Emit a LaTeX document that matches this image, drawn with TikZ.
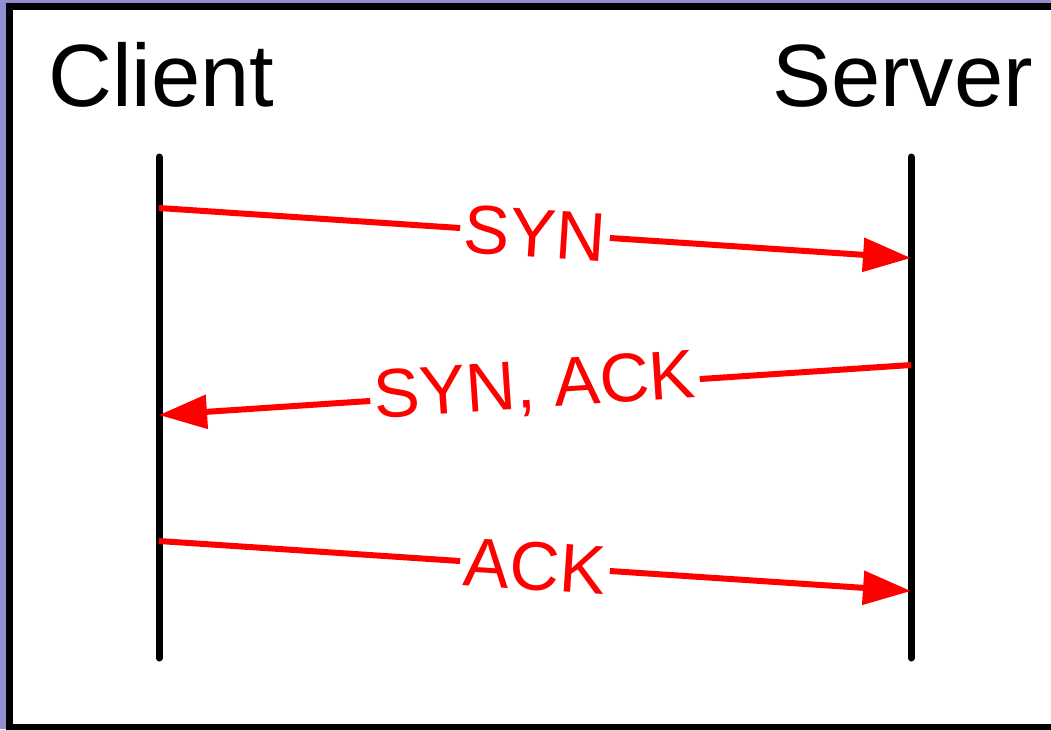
\documentclass[tikz,border=0pt]{standalone}
\usepackage{fontspec}
\setmainfont{Liberation Sans}
\usetikzlibrary{arrows.meta}
\definecolor{framebg}{RGB}{146,142,210}
\definecolor{msgred}{RGB}{255,0,0}
\tikzset{
  lifeline/.style={line width=7pt, line cap=round, black},
  message/.style={line width=6pt, msgred, -{Triangle[length=48pt,width=33pt]}},
  msglabel/.style={midway, sloped, fill=white, inner sep=4pt, text=msgred,
    font=\fontsize{69}{72}\selectfont},
  party/.style={inner sep=0pt, font=\fontsize{88.5}{92}\selectfont}
}
\begin{document}
\begin{tikzpicture}[x=1pt,y=-1pt]
  \useasboundingbox (0,0) rectangle (1051,729);
  \clip (0,0) rectangle (1051,729);
  % page frame
  \fill[framebg] (0,0) rectangle (1051,729);
  \draw[line width=7pt, fill=white] (9.5,6.5) rectangle (1070,727.5);

  % participants
  \node[party, anchor=base west] (client) at (48,106) {Client};
  \node[party, anchor=base west] (server) at (772,106) {Server};

  % lifelines
  \coordinate (ctop) at (159,157);
  \coordinate (cbot) at (159,658);
  \coordinate (stop) at (911,157);
  \coordinate (sbot) at (911,658);
  \draw[lifeline] (ctop) -- (cbot);
  \draw[lifeline] (stop) -- (sbot);

  % message end points
  \coordinate (c1) at (159,208);
  \coordinate (s1) at (911,258);
  \coordinate (s2) at (911,365);
  \coordinate (c2) at (159,415);
  \coordinate (c3) at (159,541);
  \coordinate (s3) at (911,591);

  % handshake messages
  \draw[message] (c1) -- node[msglabel] (syn) {SYN} (s1);
  \draw[message] (s2) -- node[msglabel, yshift=2pt] (synack) {SYN, ACK} (c2);
  \draw[message] (c3) -- node[msglabel] (ack) {ACK} (s3);
\end{tikzpicture}
\end{document}
